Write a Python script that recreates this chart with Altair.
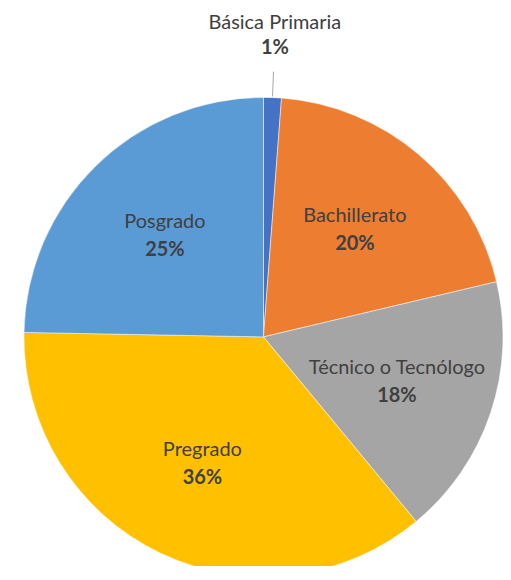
import altair as alt
import pandas as pd

categorias = ["Básica Primaria", "Bachillerato", "Técnico o Tecnólogo", "Pregrado", "Posgrado"]
valores = [1.2, 20.1, 17.7, 36.3, 24.7]
etiquetas = ["1%", "20%", "18%", "36%", "25%"]
colores = ["#4472C4", "#ED7D31", "#A5A5A5", "#FFC000", "#5B9BD5"]

df = pd.DataFrame({
    "categoria": categorias,
    "valor": valores,
    "pct": etiquetas,
    "orden": list(range(len(categorias))),
})

W, H = 480, 458
R = 240
FONT = "Lato"
FS = 20
TXT = "#404040"

base = alt.Chart(df).encode(
    theta=alt.Theta("valor:Q", stack=True),
    order=alt.Order("orden:Q", sort="ascending"),
)

pie = base.mark_arc(outerRadius=R, stroke="white", strokeWidth=0.5).encode(
    color=alt.Color("categoria:N", scale=alt.Scale(domain=categorias, range=colores), legend=None)
)

inner_op = alt.condition(alt.datum.orden == 0, alt.value(0), alt.value(1))
outer_op = alt.condition(alt.datum.orden == 0, alt.value(1), alt.value(0))

nombre_in = base.mark_text(radius=141, dy=-14, font=FONT, fontSize=FS, color=TXT).encode(
    text="categoria:N", opacity=inner_op)
pct_in = base.mark_text(radius=141, dy=14, font=FONT, fontSize=FS, fontWeight="bold", color=TXT).encode(
    text="pct:N", opacity=inner_op)
nombre_out = base.mark_text(radius=303, dy=-12, font=FONT, fontSize=FS, color=TXT).encode(
    text="categoria:N", opacity=outer_op)
pct_out = base.mark_text(radius=303, dy=13, font=FONT, fontSize=FS, fontWeight="bold", color=TXT).encode(
    text="pct:N", opacity=outer_op)

leader = alt.Chart(df).transform_window(
    cum="sum(valor)", sort=[{"field": "orden"}], frame=[None, 0]
).transform_joinaggregate(
    total="sum(valor)"
).transform_calculate(
    a="2*PI*(datum.cum - datum.valor/2)/datum.total"
).transform_calculate(
    x1=f"{W/2} + {R+1}*sin(datum.a)", y1=f"{H/2} - {R+1}*cos(datum.a)",
    x2=f"{W/2} + 266*sin(datum.a)", y2=f"{H/2} - 266*cos(datum.a)",
).transform_filter(alt.datum.orden == 0).mark_rule(color="#A6A6A6", strokeWidth=1).encode(
    x=alt.X("x1:Q", scale=None), y=alt.Y("y1:Q", scale=None),
    x2="x2:Q", y2="y2:Q",
)

chart = alt.layer(pie, leader, nombre_in, pct_in, nombre_out, pct_out).properties(
    width=W, height=H,
    autosize=alt.AutoSizeParams(type="none"),
    padding={"left": 16, "top": 100, "right": 0, "bottom": 0},
).configure_view(stroke=None)

chart.save("out.html", embed_options={"renderer": "svg", "actions": False})
